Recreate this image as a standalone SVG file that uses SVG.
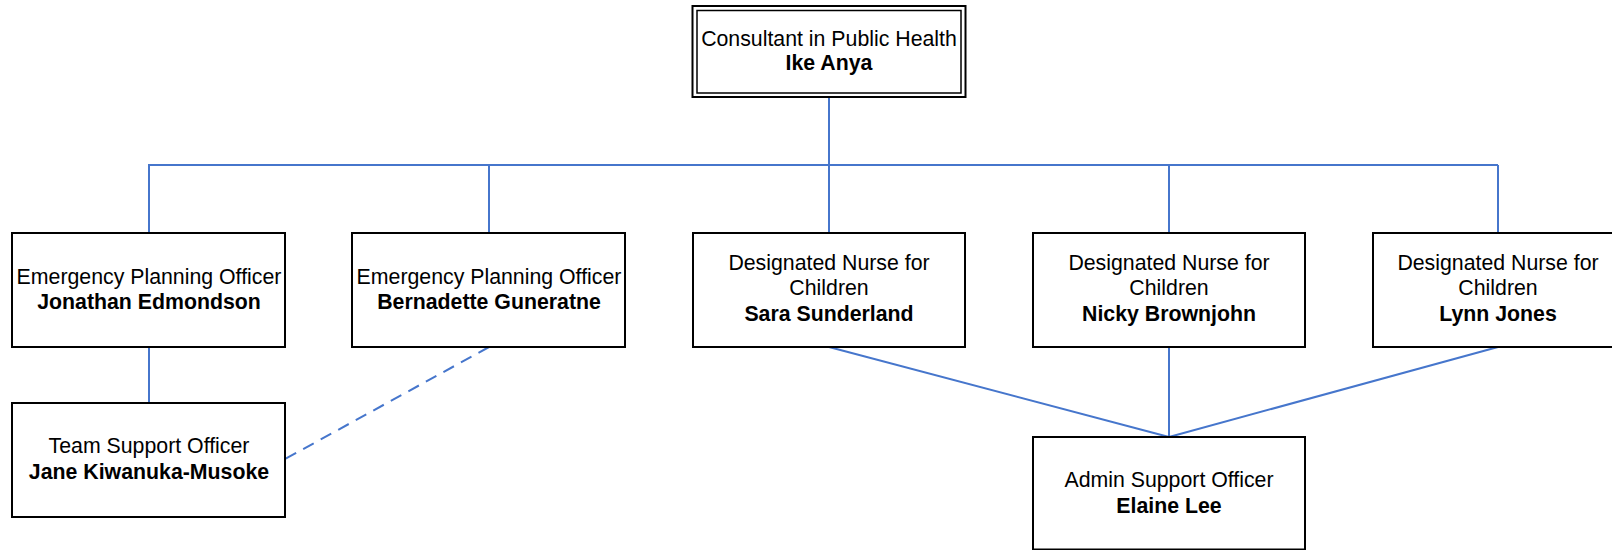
<svg xmlns="http://www.w3.org/2000/svg" width="1612" height="550" viewBox="0 0 1612 550">
<style>
.box{fill:#ffffff;stroke:#000000;stroke-width:2}
.t{font-family:"Liberation Sans",Arial,sans-serif;font-size:21.3px;fill:#000000;text-anchor:middle}
.b{font-weight:bold}
.c{fill:none;stroke:#4676CC;stroke-width:2}
.d{stroke-dasharray:12 8}
</style>
<rect width="1612" height="550" fill="#ffffff"/>
<g id="connectors">
<line class="c" x1="829" y1="97" x2="829" y2="165"/>
<line class="c" x1="148" y1="165" x2="1498" y2="165"/>
<line class="c" x1="149" y1="165" x2="149" y2="233"/>
<line class="c" x1="489" y1="165" x2="489" y2="233"/>
<line class="c" x1="829" y1="165" x2="829" y2="233"/>
<line class="c" x1="1169" y1="165" x2="1169" y2="233"/>
<line class="c" x1="1498" y1="165" x2="1498" y2="233"/>
<line class="c" x1="149" y1="347" x2="149" y2="403"/>
<line class="c d" x1="489" y1="347" x2="285" y2="459"/>
<line class="c" x1="829" y1="347" x2="1169" y2="437"/>
<line class="c" x1="1169" y1="347" x2="1169" y2="437"/>
<line class="c" x1="1498" y1="347" x2="1169" y2="437"/>
</g>
<g id="consultant">
<rect x="692.5" y="6" width="273" height="91" fill="#ffffff" stroke="#000" stroke-width="2"/>
<rect x="697" y="10.5" width="264" height="82.5" fill="none" stroke="#000" stroke-width="1.5"/>
<text class="t" x="829" y="45.5">Consultant in Public Health</text>
<text class="t b" x="829" y="70">Ike Anya</text>
</g>
<g id="epo1">
<rect class="box" x="12" y="233" width="273" height="114"/>
<text class="t" x="149" y="283.5">Emergency Planning Officer</text>
<text class="t b" x="149" y="308.5">Jonathan Edmondson</text>
</g>
<g id="epo2">
<rect class="box" x="352" y="233" width="273" height="114"/>
<text class="t" x="489" y="283.5">Emergency Planning Officer</text>
<text class="t b" x="489" y="308.5">Bernadette Guneratne</text>
</g>
<g id="nurse1">
<rect class="box" x="693" y="233" width="272" height="114"/>
<text class="t" x="829" y="269.5">Designated Nurse for</text>
<text class="t" x="829" y="295">Children</text>
<text class="t b" x="829" y="320.5">Sara Sunderland</text>
</g>
<g id="nurse2">
<rect class="box" x="1033" y="233" width="272" height="114"/>
<text class="t" x="1169" y="269.5">Designated Nurse for</text>
<text class="t" x="1169" y="295">Children</text>
<text class="t b" x="1169" y="320.5">Nicky Brownjohn</text>
</g>
<g id="nurse3">
<rect class="box" x="1373" y="233" width="272" height="114"/>
<text class="t" x="1498" y="269.5">Designated Nurse for</text>
<text class="t" x="1498" y="295">Children</text>
<text class="t b" x="1498" y="320.5">Lynn Jones</text>
</g>
<g id="team-support">
<rect class="box" x="12" y="403" width="273" height="114"/>
<text class="t" x="149" y="453">Team Support Officer</text>
<text class="t b" x="149" y="478.5">Jane Kiwanuka-Musoke</text>
</g>
<g id="admin-support">
<rect class="box" x="1033" y="437" width="272" height="112.5"/>
<text class="t" x="1169" y="487">Admin Support Officer</text>
<text class="t b" x="1169" y="512.5">Elaine Lee</text>
</g>
</svg>
